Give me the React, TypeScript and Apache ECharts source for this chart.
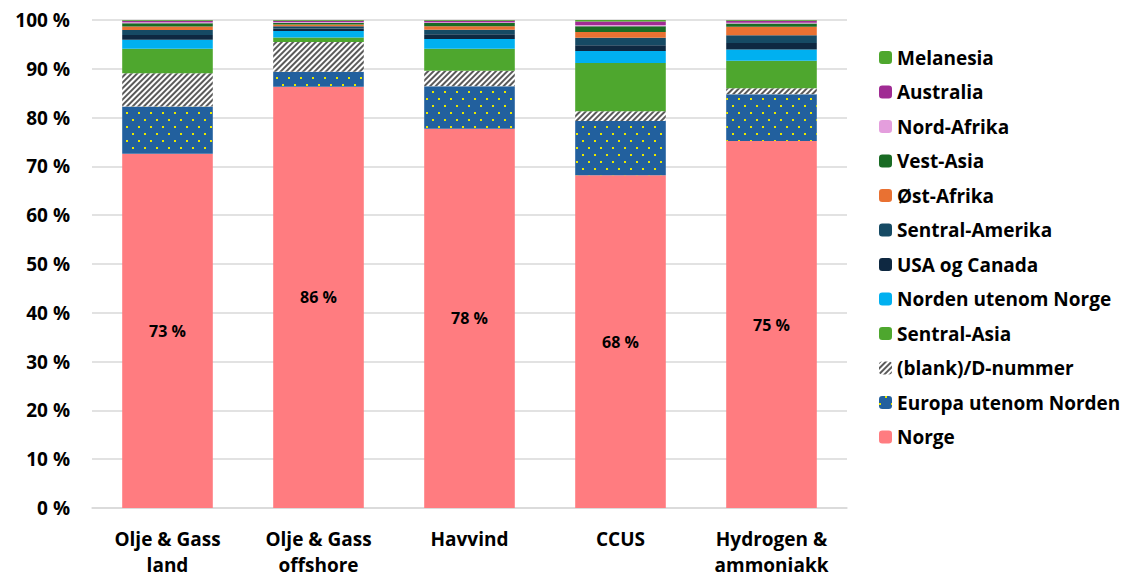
import React, { useEffect, useRef } from "react";
import * as echarts from "echarts";

const categories = ["Olje & Gass\nland", "Olje & Gass\noffshore", "Havvind", "CCUS", "Hydrogen &\nammoniakk"];

const seriesNames = [
  "Norge",
  "Europa utenom Norden",
  "(blank)/D-nummer",
  "Sentral-Asia",
  "Norden utenom Norge",
  "USA og Canada",
  "Sentral-Amerika",
  "Øst-Afrika",
  "Vest-Asia",
  "Nord-Afrika",
  "Australia",
  "Melanesia",
];

const norge = [72.6, 86.3, 77.7, 68.2, 75.2];
const europa = [9.7, 3.1, 8.7, 11.1, 9.6];
const blank = [6.8, 6.1, 3.2, 2.0, 1.2];
const sentralAsia = [5.0, 0.9, 4.5, 9.9, 5.65];
const norden = [1.85, 1.35, 2.0, 2.45, 2.3];
const usaCanada = [1.0, 0.5, 1.0, 1.2, 1.35];
const sentralAmerika = [1.0, 0.45, 0.9, 1.5, 1.6];
const ostAfrika = [0.7, 0.4, 0.7, 1.2, 1.7];
const vestAsia = [0.7, 0.35, 0.7, 1.15, 0.7];
const nordAfrika = [0.2, 0.15, 0.15, 0.3, 0.15];
const australia = [0.3, 0.25, 0.3, 0.7, 0.4];
const melanesia = [0.15, 0.15, 0.15, 0.3, 0.15];

const seriesValues = [norge, europa, blank, sentralAsia, norden, usaCanada, sentralAmerika, ostAfrika, vestAsia, nordAfrika, australia, melanesia];

const colors = [
  "#FF7C80",
  "#22609E",
  "#FFFFFF",
  "#4EA72E",
  "#00B0F0",
  "#0E2841",
  "#164A64",
  "#E97132",
  "#196B24",
  "#E49EDD",
  "#A02B93",
  "#4EA72E",
];

const yTicks = [0, 10, 20, 30, 40, 50, 60, 70, 80, 90, 100];

const FONT = "Open Sans";

export default function App() {
  const ref = useRef<HTMLDivElement>(null);
  useEffect(() => {
    if (!ref.current) return;
    const chart = echarts.init(ref.current, undefined, { renderer: "svg" });
    const series = seriesNames.map((name, i) => {
      const s: any = {
        name,
        type: "bar",
        stack: "total",
        barWidth: "60%",
        data: seriesValues[i],
        itemStyle: { color: colors[i] },
      };
      if (i === 1) {
        s.itemStyle.decal = {
          symbol: "rect",
          symbolSize: 1,
          color: "#E8E800",
          dashArrayX: [[2, 10], [0, 6, 2, 4]],
          dashArrayY: [2, 5],
        };
      }
      if (i === 2) {
        s.itemStyle.decal = {
          symbol: "rect",
          symbolSize: 1,
          color: "#5A5A5A",
          dashArrayX: [1, 0],
          dashArrayY: [2, 2],
          rotation: -Math.PI / 4,
        };
      }
      if (i === 0) {
        s.label = {
          show: true,
          position: "inside",
          formatter: (p: any) => Math.round(p.value) + " %",
          color: "#000",
          fontFamily: FONT,
          fontWeight: "bold",
          fontSize: 16,
        };
      }
      return s;
    });
    chart.setOption({
      animation: false,
      grid: { left: 92, right: 289, top: 20, bottom: 71 },
      legend: {
        orient: "vertical",
        left: 874,
        top: 43,
        itemWidth: 13,
        itemHeight: 13,
        itemGap: 15.5,
        data: [...seriesNames].reverse(),
        textStyle: { fontFamily: FONT, fontWeight: "bold", fontSize: 19, color: "#000" },
      },
      xAxis: {
        type: "category",
        data: categories,
        axisLine: { lineStyle: { color: "#D9D9D9", width: 1.5 } },
        axisTick: { show: false },
        axisLabel: {
          fontFamily: FONT,
          fontWeight: "bold",
          fontSize: 19,
          color: "#000",
          lineHeight: 26,
          margin: 18,
        },
      },
      yAxis: {
        type: "value",
        min: yTicks[0],
        max: yTicks[yTicks.length - 1],
        interval: 10,
        axisLabel: {
          formatter: (v: number) => v + " %",
          fontFamily: FONT,
          fontWeight: "bold",
          fontSize: 19,
          color: "#000",
          margin: 22,
        },
        splitLine: { lineStyle: { color: "#D9D9D9", width: 1.5 } },
      },
      series,
    });
    return () => chart.dispose();
  }, []);
  return <div ref={ref} style={{ position: "fixed", left: 0, top: 0, width: 1136, height: 579, background: "#fff" }} />;
}
